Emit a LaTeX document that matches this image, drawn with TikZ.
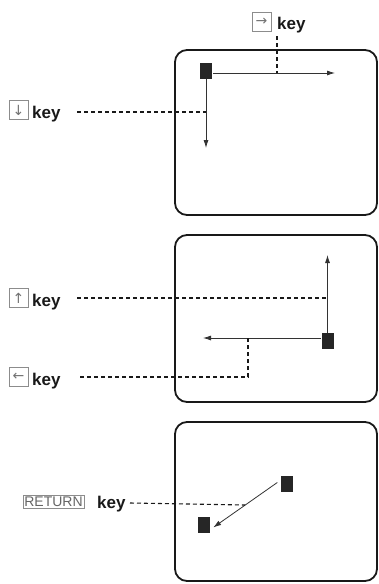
\documentclass[tikz,border=0pt]{standalone}
\usepackage{fontspec}
\setmainfont{Liberation Sans}
\newfontfamily\symfont{DejaVu Sans}
\usetikzlibrary{arrows.meta}
\begin{document}
\begin{tikzpicture}[x=1pt,y=-1pt,
  screen/.style={draw=black!90, line width=1.8pt, rounded corners=12pt},
  cursor/.style={fill=black!85, draw=none, minimum width=12pt, minimum height=16pt, inner sep=0pt},
  move/.style={draw=black!80, line width=0.8pt, -{Latex[length=8pt,width=5pt]}},
  lead/.style={draw=black!90, line width=1.1pt, dash pattern=on 4pt off 3pt},
  keyicon/.style={draw=black!45, line width=0.6pt, minimum size=19pt, inner sep=0pt, text=black!55, font=\symfont\fontsize{14}{14}\selectfont},
  lbl/.style={font=\bfseries\fontsize{17}{19}\selectfont, inner sep=0pt, anchor=base west, text=black!90},
  retbox/.style={draw=black!45, line width=0.6pt, inner sep=1.5pt, text=black!60, font=\fontsize{14}{16}\selectfont}]
\useasboundingbox (0,0) rectangle (379,584);
\fill[white] (0,0) rectangle (379,584);

% ---------- screen 1 ----------
\draw[screen] (175,50) rectangle (377,215);
\node[cursor] (c1) at (206,71) {};
\coordinate (r1) at (335,73);
\coordinate (s1) at (206,73);
\draw[move] ([xshift=7pt]s1) -- (r1);
\coordinate (dn1) at (206,148);
\draw[move] (c1.south) -- (dn1);

\node[keyicon] (kR) at (261.5,22) {→};
\node[lbl] (tR) at (277,29) {key};
\coordinate (vR1) at (277,36);
\coordinate (vR2) at (277,73);
\draw[lead] (vR1) -- (vR2);

\node[keyicon] (kD) at (18.5,110) {↓};
\node[lbl] (tD) at (32,118) {key};
\coordinate (hD1) at (77,112);
\coordinate (hD2) at (206,112);
\draw[lead] (hD1) -- (hD2);

% ---------- screen 2 ----------
\draw[screen] (175,235) rectangle (377,402);
\node[cursor] (c2) at (327.5,341) {};
\coordinate (up2) at (327.5,255);
\draw[move] (c2.north) -- (up2);
\coordinate (l2a) at (321,338);
\coordinate (l2b) at (203,338);
\draw[move] (l2a) -- (l2b);

\node[keyicon] (kU) at (18.5,298) {↑};
\node[lbl] (tU) at (32,306) {key};
\coordinate (hU1) at (77,298);
\coordinate (hU2) at (327.5,298);
\draw[lead] (hU1) -- (hU2);

\node[keyicon] (kL) at (18.5,377) {←};
\node[lbl] (tL) at (32,385) {key};
\coordinate (hL1) at (80,377);
\coordinate (hL2) at (248,377);
\coordinate (hL3) at (248,338);
\draw[lead] (hL1) -- (hL2) -- (hL3);

% ---------- screen 3 ----------
\draw[screen] (175,422) rectangle (377,581);
\node[cursor] (c3) at (286.5,483.5) {};
\node[cursor] (c4) at (204,524.5) {};
\draw[move] ([xshift=-3pt,yshift=1pt]c3.west) -- coordinate[pos=0.5] (mid) ([xshift=3pt,yshift=-3pt]c4.east);

\node[retbox] (kRet) at (53.5,502) {RETURN};
\node[lbl] (tRet) at (97,508) {key};
\coordinate (hR1) at (130,503);
\draw[lead] (hR1) -- (mid);
\end{tikzpicture}
\end{document}
